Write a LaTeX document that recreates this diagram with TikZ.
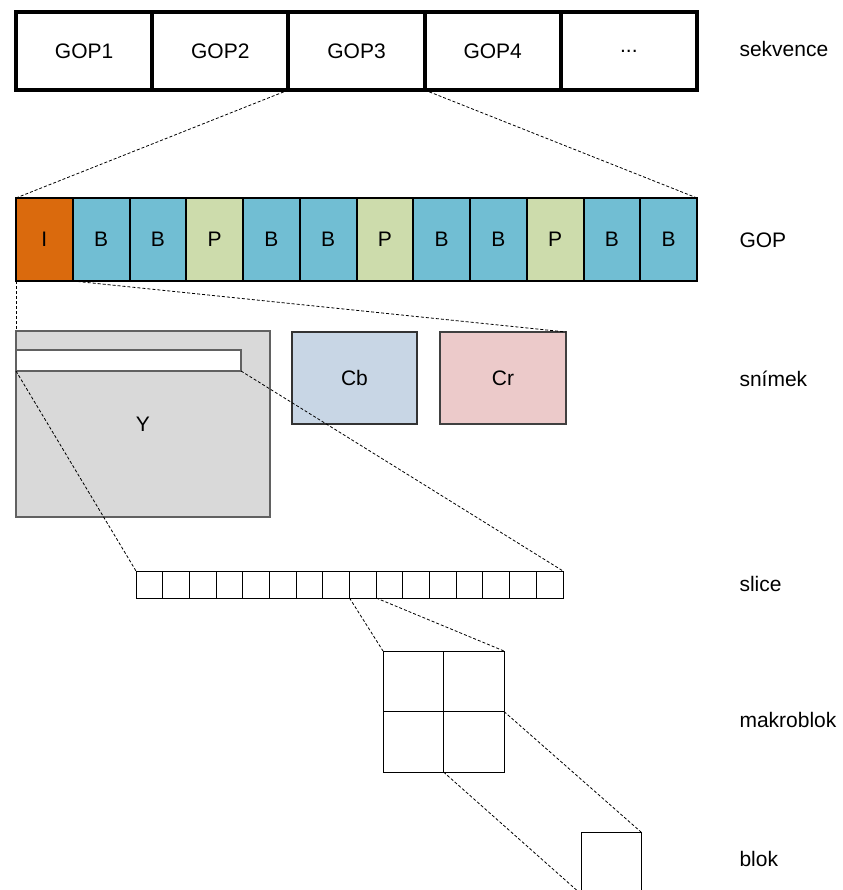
\documentclass[tikz,border=0pt]{standalone}
\usepackage{fontspec}
\setmainfont{Liberation Sans}
\begin{document}
\definecolor{iframe}{HTML}{DA6A0D}
\definecolor{bframe}{HTML}{71BED3}
\definecolor{pframe}{HTML}{CDDCAC}
\definecolor{lumagray}{HTML}{D9D9D9}
\definecolor{cbfill}{HTML}{C8D6E5}
\definecolor{crfill}{HTML}{ECCACA}
\tikzset{
  cell/.style={draw, inner sep=0pt, outer sep=0pt, anchor=north west,
    font=\fontsize{21}{24}\selectfont},
  seqbox/.style={cell, line width=4pt, minimum width=136.2pt, minimum height=78pt},
  gopbox/.style={cell, line width=2pt, minimum width=56.75pt, minimum height=83pt},
  plane/.style={cell, line width=1.3pt},
  unit/.style={cell, line width=1pt, fill=white},
  zoomline/.style={dashed, dash pattern=on 3pt off 2pt, line width=0.8pt},
  level/.style={anchor=base west, font=\fontsize{21}{24}\selectfont}
}
\begin{tikzpicture}[x=1pt, y=-1pt]
\useasboundingbox (0,0) rectangle (842,890);
\clip (0,0) rectangle (842,890);

% sequence of GOPs
\foreach \t [count=\i] in {GOP1,GOP2,GOP3,GOP4}
  \node[seqbox] (s\i) at ({16+(\i-1)*136.2},12) {\t};
\node[seqbox] (s5) at ({16+4*136.2},12) {\raisebox{-2pt}{{.}{.}{.}}};

% one GOP: frame types
\foreach \t/\c [count=\i] in {I/iframe,B/bframe,B/bframe,P/pframe,B/bframe,B/bframe,
                              P/pframe,B/bframe,B/bframe,P/pframe,B/bframe,B/bframe}
  \node[gopbox, fill=\c] (g\i) at ({16+(\i-1)*56.75},198) {\t};

% one picture: Y, Cb, Cr planes
\node[plane, fill=lumagray, draw=black!62, minimum width=254pt, minimum height=186pt] (Y) at (16,331) {};
\node (Ylabel) at (143,424) {\fontsize{21}{24}\selectfont Y};
\node[plane, fill=white, draw=black!62, minimum width=225pt, minimum height=21pt] (bar) at (16,350) {};
\node[plane, fill=cbfill, draw=black!80, minimum width=125pt, minimum height=92pt] (Cb) at (292,332) {Cb};
\node[plane, fill=crfill, draw=black!75, minimum width=126pt, minimum height=92pt] (Cr) at (440,332) {Cr};

% one slice: row of macroblocks
\foreach \i in {1,2,3,4,5,6,7,8,9,10,11,12,13,14,15,16}
  \node[unit, minimum width=26.69pt, minimum height=27pt] (sl\i) at ({136+(\i-1)*26.69},571) {};

% one macroblock: 2x2 blocks
\node[unit, minimum width=60.5pt, minimum height=60.5pt] (m11) at (383,651) {};
\node[unit, minimum width=60.5pt, minimum height=60.5pt] (m12) at (443.5,651) {};
\node[unit, minimum width=60.5pt, minimum height=60.5pt] (m21) at (383,711.5) {};
\node[unit, minimum width=60.5pt, minimum height=60.5pt] (m22) at (443.5,711.5) {};

% one block
\node[unit, minimum width=60pt, minimum height=62pt] (blk) at (581,832) {};

% zoom lines between levels
\draw[zoomline] (s3.south west) -- (g1.north west);
\draw[zoomline] (s3.south east) -- (g12.north east);
\draw[zoomline] (g1.south west) -- (Y.north west);
\draw[zoomline] (g1.south east) -- (Cr.north east);
\draw[zoomline] (bar.south west) -- (sl1.north west);
\draw[zoomline] (bar.south east) -- (sl16.north east);
\draw[zoomline] (sl9.south west) -- (m11.north west);
\draw[zoomline] (sl9.south east) -- (m12.north east);
\draw[zoomline] (m22.north east) -- (blk.north east);
\draw[zoomline] (m22.south west) -- (blk.south west);

% level names
\node[level] (lsek) at (736,57) {sekvence};
\node[level] (lgop) at (736,248) {GOP};
\node[level] (lsni) at (736,386) {snímek};
\node[level] (lsli) at (736,591) {slice};
\node[level] (lmak) at (736,727) {makroblok};
\node[level] (lblo) at (736,866) {blok};
\end{tikzpicture}
\end{document}
